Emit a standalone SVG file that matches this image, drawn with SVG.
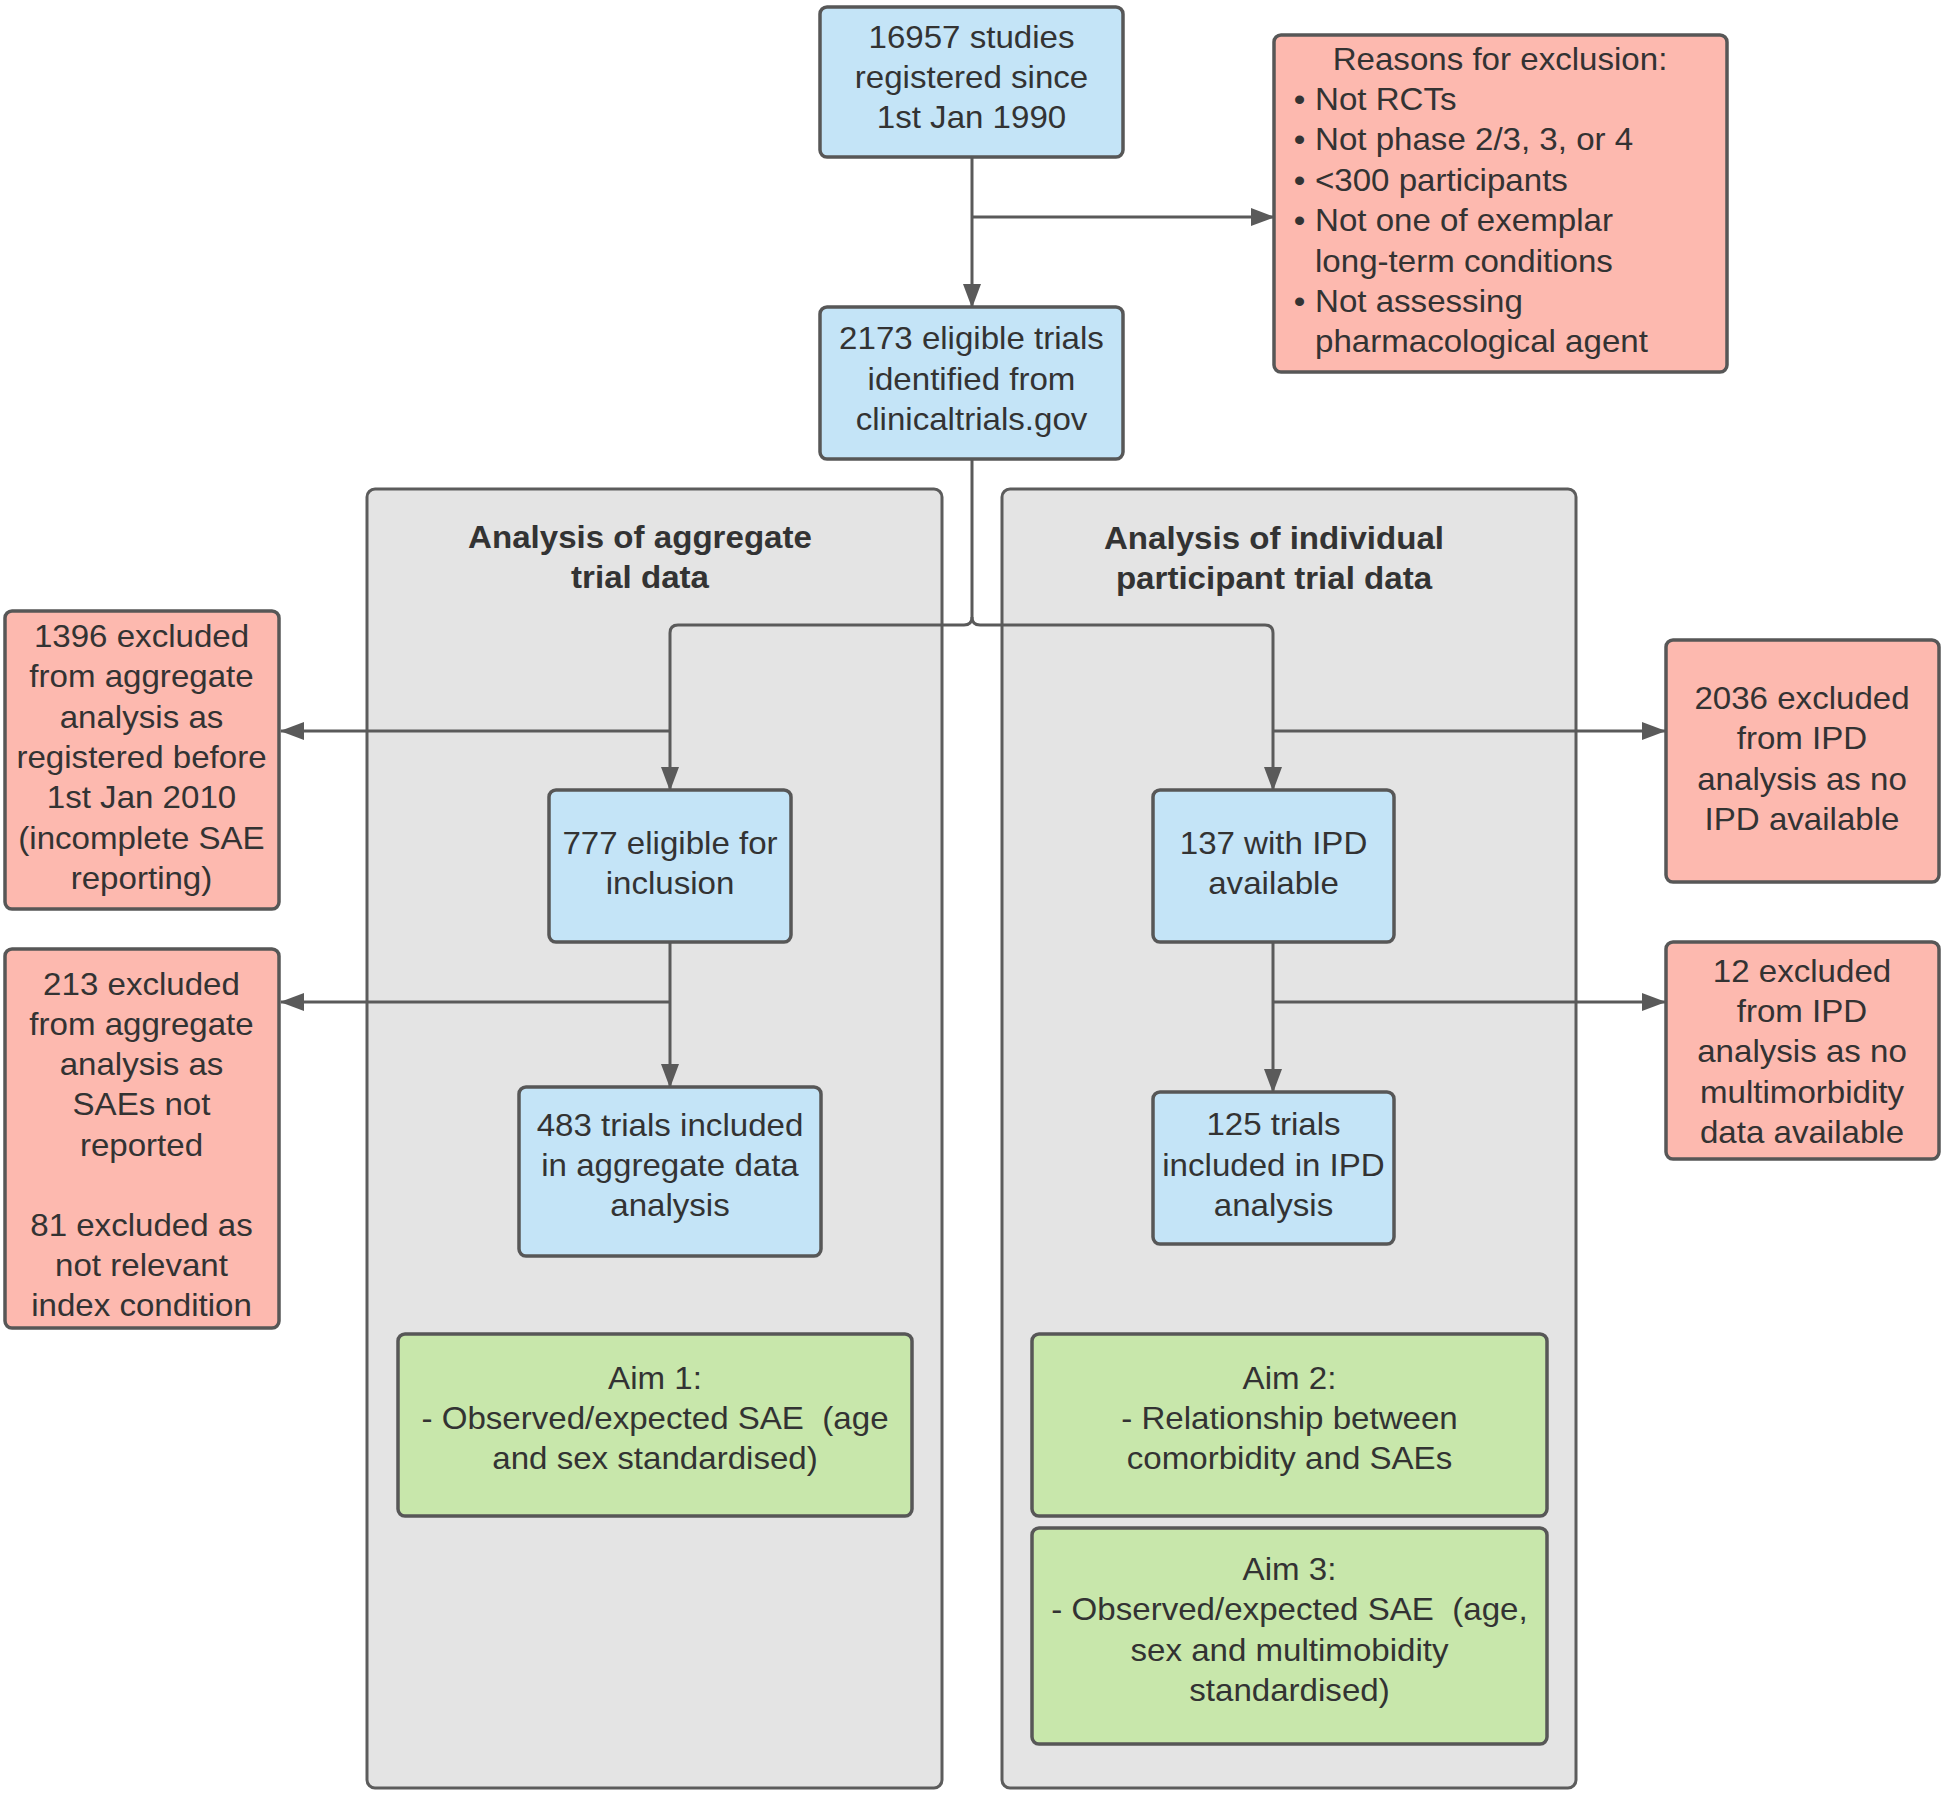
<svg xmlns="http://www.w3.org/2000/svg" width="1944" height="1794" viewBox="0 0 1944 1794">
<style>
.blue{fill:#c4e4f7;stroke:#575757;stroke-width:3.5}
.red{fill:#fdb9af;stroke:#575757;stroke-width:3.5}
.green{fill:#c8e7ab;stroke:#575757;stroke-width:3.5}
.cont{fill:#e4e4e4;stroke:#5c5c5c;stroke-width:3}
.t{font-family:"Liberation Sans",Arial,sans-serif;font-size:30.5px;fill:#333;text-anchor:middle;white-space:pre}
.l{text-anchor:start}
.b{font-weight:bold}
.c{fill:none;stroke:#5a5a5a;stroke-width:3}
</style>
<defs>
<marker id="ah" viewBox="0 0 24 18" refX="23" refY="9" markerWidth="24" markerHeight="18" markerUnits="userSpaceOnUse" orient="auto">
<path d="M0,0 L24,9 L0,18 z" fill="#5a5a5a"/>
</marker>
</defs>

<g id="container-aggregate">
<rect class="cont" x="367" y="489" width="575" height="1299" rx="8"/>
<text class="t b" transform="translate(640,0) scale(1.085,1)"><tspan x="0" y="548">Analysis of aggregate</tspan><tspan x="0" y="588">trial data</tspan></text>
</g>
<g id="container-ipd">
<rect class="cont" x="1002" y="489" width="574" height="1299" rx="8"/>
<text class="t b" transform="translate(1274,0) scale(1.085,1)"><tspan x="0" y="549">Analysis of individual</tspan><tspan x="0" y="589">participant trial data</tspan></text>
</g>

<g id="connectors">
<path class="c" d="M972,157 V307" marker-end="url(#ah)"/>
<path class="c" d="M972,217 H1274" marker-end="url(#ah)"/>
<path class="c" d="M972,459 V617 Q972,625 964,625 H678 Q670,625 670,633 V790" marker-end="url(#ah)"/>
<path class="c" d="M972,617 Q972,625 980,625 H1265 Q1273,625 1273,633 V790" marker-end="url(#ah)"/>
<path class="c" d="M670,731 H281" marker-end="url(#ah)"/>
<path class="c" d="M670,942 V1087" marker-end="url(#ah)"/>
<path class="c" d="M670,1002 H281" marker-end="url(#ah)"/>
<path class="c" d="M1273,731 H1665" marker-end="url(#ah)"/>
<path class="c" d="M1273,942 V1092" marker-end="url(#ah)"/>
<path class="c" d="M1273,1002 H1665" marker-end="url(#ah)"/>
</g>

<g id="n-16957">
<rect class="blue" x="820" y="7" width="303" height="150" rx="7"/>
<text class="t" transform="translate(971.5,0) scale(1.085,1)"><tspan x="0" y="48">16957 studies</tspan><tspan x="0" y="88">registered since</tspan><tspan x="0" y="128">1st Jan 1990</tspan></text>
</g>
<g id="n-reasons">
<rect class="red" x="1274" y="35" width="453" height="337" rx="7"/>
<text class="t" transform="translate(1500,0) scale(1.085,1)"><tspan x="0" y="70">Reasons for exclusion:</tspan></text>
<text class="t l" transform="translate(1315,0) scale(1.085,1)"><tspan x="-19.5" y="110">•</tspan><tspan x="0" y="110">Not RCTs</tspan><tspan x="-19.5" y="150">•</tspan><tspan x="0" y="150">Not phase 2/3, 3, or 4</tspan><tspan x="-19.5" y="191">•</tspan><tspan x="0" y="191">&lt;300 participants</tspan><tspan x="-19.5" y="231">•</tspan><tspan x="0" y="231">Not one of exemplar</tspan><tspan x="0" y="272">long-term conditions</tspan><tspan x="-19.5" y="312">•</tspan><tspan x="0" y="312">Not assessing</tspan><tspan x="0" y="352">pharmacological agent</tspan></text>
</g>
<g id="n-2173">
<rect class="blue" x="820" y="307" width="303" height="152" rx="7"/>
<text class="t" transform="translate(971.5,0) scale(1.085,1)"><tspan x="0" y="349">2173 eligible trials</tspan><tspan x="0" y="390">identified from</tspan><tspan x="0" y="430">clinicaltrials.gov</tspan></text>
</g>
<g id="n-1396">
<rect class="red" x="5" y="611" width="274" height="298" rx="7"/>
<text class="t" transform="translate(141.5,0) scale(1.085,1)"><tspan x="0" y="647">1396 excluded</tspan><tspan x="0" y="687">from aggregate</tspan><tspan x="0" y="728">analysis as</tspan><tspan x="0" y="768">registered before</tspan><tspan x="0" y="808">1st Jan 2010</tspan><tspan x="0" y="849">(incomplete SAE</tspan><tspan x="0" y="889">reporting)</tspan></text>
</g>
<g id="n-213">
<rect class="red" x="5" y="949" width="274" height="379" rx="7"/>
<text class="t" transform="translate(141.5,0) scale(1.085,1)"><tspan x="0" y="995">213 excluded</tspan><tspan x="0" y="1035">from aggregate</tspan><tspan x="0" y="1075">analysis as</tspan><tspan x="0" y="1115">SAEs not</tspan><tspan x="0" y="1156">reported</tspan><tspan x="0" y="1236">81 excluded as</tspan><tspan x="0" y="1276">not relevant</tspan><tspan x="0" y="1316">index condition</tspan></text>
</g>
<g id="n-777">
<rect class="blue" x="549" y="790" width="242" height="152" rx="7"/>
<text class="t" transform="translate(670,0) scale(1.085,1)"><tspan x="0" y="854">777 eligible for</tspan><tspan x="0" y="894">inclusion</tspan></text>
</g>
<g id="n-483">
<rect class="blue" x="519" y="1087" width="302" height="169" rx="7"/>
<text class="t" transform="translate(670,0) scale(1.085,1)"><tspan x="0" y="1136">483 trials included</tspan><tspan x="0" y="1176">in aggregate data</tspan><tspan x="0" y="1216">analysis</tspan></text>
</g>
<g id="n-137">
<rect class="blue" x="1153" y="790" width="241" height="152" rx="7"/>
<text class="t" transform="translate(1273.5,0) scale(1.085,1)"><tspan x="0" y="854">137 with IPD</tspan><tspan x="0" y="894">available</tspan></text>
</g>
<g id="n-125">
<rect class="blue" x="1153" y="1092" width="241" height="152" rx="7"/>
<text class="t" transform="translate(1273.5,0) scale(1.085,1)"><tspan x="0" y="1135">125 trials</tspan><tspan x="0" y="1176">included in IPD</tspan><tspan x="0" y="1216">analysis</tspan></text>
</g>
<g id="n-2036">
<rect class="red" x="1666" y="640" width="273" height="242" rx="7"/>
<text class="t" transform="translate(1802,0) scale(1.085,1)"><tspan x="0" y="709">2036 excluded</tspan><tspan x="0" y="749">from IPD</tspan><tspan x="0" y="790">analysis as no</tspan><tspan x="0" y="830">IPD available</tspan></text>
</g>
<g id="n-12">
<rect class="red" x="1666" y="942" width="273" height="217" rx="7"/>
<text class="t" transform="translate(1802,0) scale(1.085,1)"><tspan x="0" y="982">12 excluded</tspan><tspan x="0" y="1022">from IPD</tspan><tspan x="0" y="1062">analysis as no</tspan><tspan x="0" y="1103">multimorbidity</tspan><tspan x="0" y="1143">data available</tspan></text>
</g>
<g id="n-aim1">
<rect class="green" x="398" y="1334" width="514" height="182" rx="7"/>
<text class="t" transform="translate(655,0) scale(1.085,1)"><tspan x="0" y="1389">Aim 1:</tspan><tspan x="0" y="1429">- Observed/expected SAE  (age</tspan><tspan x="0" y="1469">and sex standardised)</tspan></text>
</g>
<g id="n-aim2">
<rect class="green" x="1032" y="1334" width="515" height="182" rx="7"/>
<text class="t" transform="translate(1289.5,0) scale(1.085,1)"><tspan x="0" y="1389">Aim 2:</tspan><tspan x="0" y="1429">- Relationship between</tspan><tspan x="0" y="1469">comorbidity and SAEs</tspan></text>
</g>
<g id="n-aim3">
<rect class="green" x="1032" y="1528" width="515" height="216" rx="7"/>
<text class="t" transform="translate(1289.5,0) scale(1.085,1)"><tspan x="0" y="1580">Aim 3:</tspan><tspan x="0" y="1620">- Observed/expected SAE  (age,</tspan><tspan x="0" y="1661">sex and multimobidity</tspan><tspan x="0" y="1701">standardised)</tspan></text>
</g>
</svg>
